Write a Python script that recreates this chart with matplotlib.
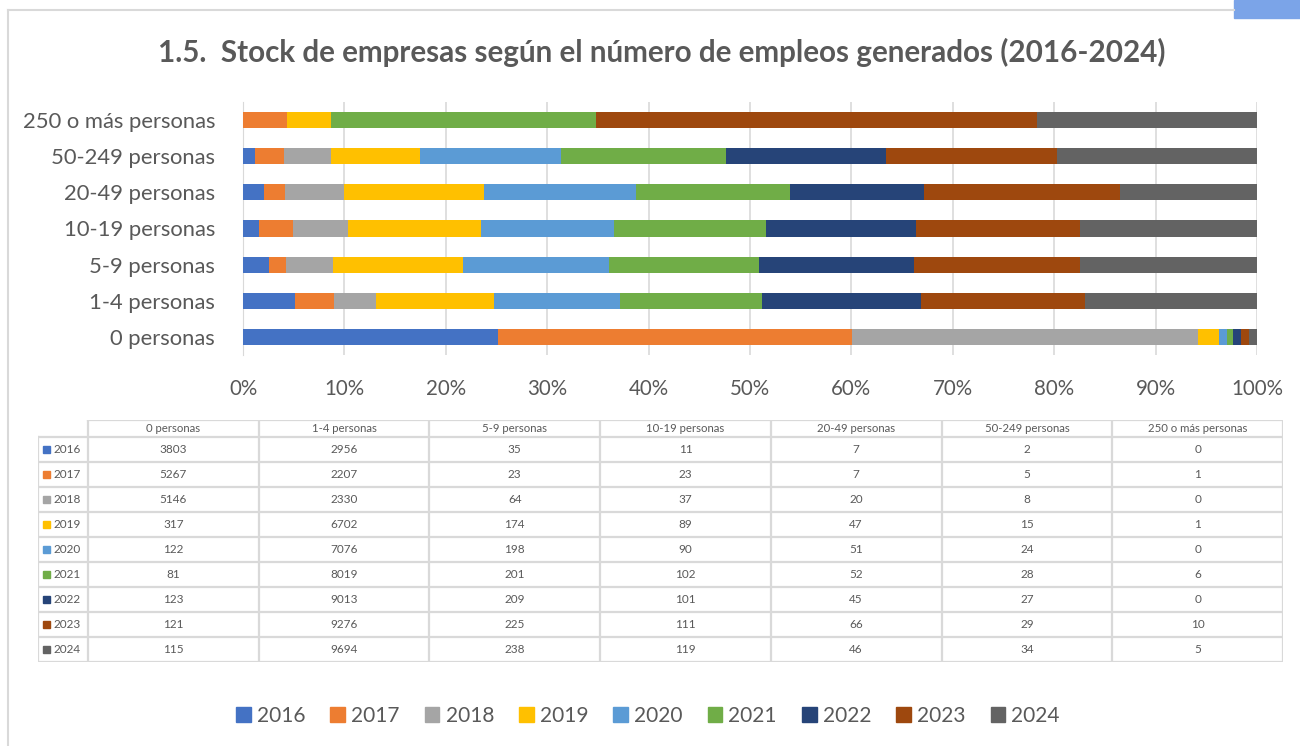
import matplotlib.pyplot as plt
import matplotlib.patches as mpatches
import numpy as np

plt.rcParams['font.family'] = ['Lato', 'DejaVu Sans']

# data
categorias = ['0 personas', '1-4 personas', '5-9 personas', '10-19 personas',
              '20-49 personas', '50-249 personas', '250 o más personas']
anios = ['2016', '2017', '2018', '2019', '2020', '2021', '2022', '2023', '2024']
v2016 = [3803, 2956, 35, 11, 7, 2, 0]
v2017 = [5267, 2207, 23, 23, 7, 5, 1]
v2018 = [5146, 2330, 64, 37, 20, 8, 0]
v2019 = [317, 6702, 174, 89, 47, 15, 1]
v2020 = [122, 7076, 198, 90, 51, 24, 0]
v2021 = [81, 8019, 201, 102, 52, 28, 6]
v2022 = [123, 9013, 209, 101, 45, 27, 0]
v2023 = [121, 9276, 225, 111, 66, 29, 10]
v2024 = [115, 9694, 238, 119, 46, 34, 5]
colores = ['#4472C4', '#ED7D31', '#A5A5A5', '#FFC000', '#5B9BD5',
           '#70AD47', '#264478', '#9E480E', '#636363']

series = [v2016, v2017, v2018, v2019, v2020, v2021, v2022, v2023, v2024]
datos = np.array(series, dtype=float)
pct = datos / datos.sum(axis=0) * 100

texto = '#595959'
gris = '#D9D9D9'

fig = plt.figure(figsize=(13, 7.46), dpi=100)

# outer frame (left and top edges) and the blue tab in the corner
fig.add_artist(plt.Line2D([8/1300, 8/1300], [0, 1 - 10/746], color=gris, lw=1.5))
fig.add_artist(plt.Line2D([8/1300, 1234/1300], [1 - 10/746, 1 - 10/746], color=gris, lw=1.5))
fig.add_artist(mpatches.Rectangle((1234/1300, 1 - 18/746), 66/1300, 18/746,
                                  color='#7BA4E8', transform=fig.transFigure))

fig.text(662/1300, 1 - 52/746, '1.5.  Stock de empresas según el número de empleos generados (2016-2024)',
         ha='center', va='center', fontsize=21.3, fontweight='bold', color=texto)

# stacked 100% bars
ax = fig.add_axes([243/1300, 1 - 355/746, (1257 - 243)/1300, 253/746])
y = np.arange(len(categorias))
izq = np.zeros(len(categorias))
for i in range(len(anios)):
    ax.barh(y, pct[i], left=izq, height=0.45, color=colores[i], zorder=3)
    izq += pct[i]

ax.set_xlim(0, 100)
ax.set_ylim(-0.5, len(categorias) - 0.5)
ax.set_xticks(np.arange(0, 101, 10))
ax.set_xticklabels([f'{t}%' for t in range(0, 101, 10)])
ax.set_yticks(y)
ax.set_yticklabels(categorias)
ax.tick_params(axis='y', length=0, pad=20, labelsize=15.8, labelcolor=texto)
ax.tick_params(axis='x', length=0, pad=17, labelsize=14.8, labelcolor=texto)
ax.grid(axis='x', color=gris, lw=1.2, zorder=0)
for s in ['top', 'right', 'bottom']:
    ax.spines[s].set_visible(False)
ax.spines['left'].set_color(gris)

# data table
tab = fig.add_axes([38/1300, 1 - 662/746, (1283 - 38)/1300, 242/746])
tab.set_xlim(0, 1245)
tab.set_ylim(242, 0)
tab.axis('off')
x_cols = [0, 50] + [50 + 1195 / 7 * (k + 1) for k in range(7)]
y_head = 17
alto = 25
y_rows = [y_head + alto * k for k in range(len(anios) + 1)]
lw_t = 1.6
# horizontal lines
tab.plot([x_cols[1], x_cols[-1]], [0, 0], color=gris, lw=lw_t)
for yy in y_rows:
    tab.plot([0, x_cols[-1]], [yy, yy], color=gris, lw=lw_t)
# vertical lines
tab.plot([0, 0], [y_head, y_rows[-1]], color=gris, lw=lw_t)
for xx in x_cols[1:]:
    tab.plot([xx, xx], [0, y_rows[-1]], color=gris, lw=lw_t)
for j, cat in enumerate(categorias):
    xc = (x_cols[j + 1] + x_cols[j + 2]) / 2
    tab.text(xc, y_head / 2, cat, ha='center', va='center', fontsize=8.2, color=texto)
for i, anio in enumerate(anios):
    yc = (y_rows[i] + y_rows[i + 1]) / 2
    tab.add_patch(mpatches.Rectangle((5, yc - 3.5), 7, 7, color=colores[i]))
    tab.text(15, yc, anio, ha='left', va='center', fontsize=8.5, color=texto)
    for j in range(len(categorias)):
        xc = (x_cols[j + 1] + x_cols[j + 2]) / 2
        tab.text(xc, yc, str(series[i][j]), ha='center', va='center', fontsize=8.5, color=texto)

# legend
manijas = [mpatches.Patch(color=c, label=a) for c, a in zip(colores, anios)]
fig.legend(handles=manijas, loc='center', bbox_to_anchor=(648/1300, 1 - 716/746), ncol=9,
           frameon=False, fontsize=15, handlelength=0.7, handleheight=0.7,
           handletextpad=0.3, columnspacing=1.2, labelcolor=texto)

fig.savefig('out.png', dpi=100)
